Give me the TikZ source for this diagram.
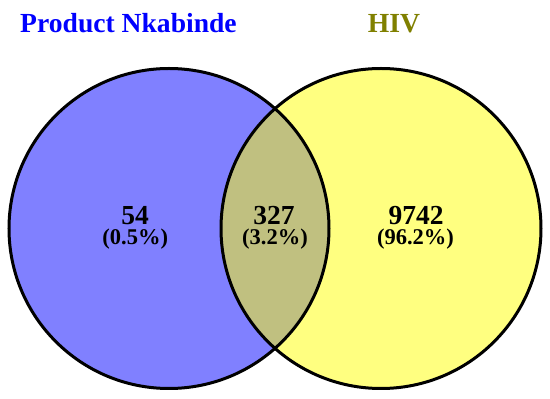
\documentclass[tikz,border=0pt]{standalone}
\usepackage{fontspec}
\setmainfont{Liberation Serif}
\begin{document}
\begin{tikzpicture}[x=1pt,y=1pt,
  circ/.style={line width=3pt},
  title/.style={font=\fontsize{27.6}{30}\selectfont\bfseries, anchor=base},
  num/.style={font=\fontsize{27.5}{28}\selectfont\bfseries, anchor=base, inner sep=0pt, text depth=0pt},
  pct/.style={font=\fontsize{22.5}{23}\selectfont\bfseries, anchor=base, inner sep=0pt, text height=15pt}]
\definecolor{cblue}{HTML}{8080FF}
\definecolor{cyel}{HTML}{FFFF80}
\definecolor{cmix}{HTML}{C0C080}
\definecolor{tblue}{HTML}{0000FF}
\definecolor{tolive}{HTML}{808000}
\useasboundingbox (0,0) rectangle (550,399);
\coordinate (cl) at (169,170.5);
\coordinate (cr) at (381,170.5);
\fill[cblue] (cl) circle (160);
\fill[cyel] (cr) circle (160);
\begin{scope}
  \clip (cl) circle (160);
  \fill[cmix] (cr) circle (160);
\end{scope}
\draw[circ] (cl) circle (160);
\draw[circ] (cr) circle (160);
\node[title, text=tblue] (t1) at (128.5,366) {Product Nkabinde};
\node[title, text=tolive] (t2) at (394,366) {HIV};
\node[num] (n1) at (135,174.5) {54};
\node[pct] (p1) at (135.3,154) {(0.5\%)};
\node[num] (n2) at (274,174.5) {327};
\node[pct] (p2) at (275,154) {(3.2\%)};
\node[num] (n3) at (416,174.5) {9742};
\node[pct] (p3) at (415.5,154) {(96.2\%)};
\end{tikzpicture}
\end{document}
